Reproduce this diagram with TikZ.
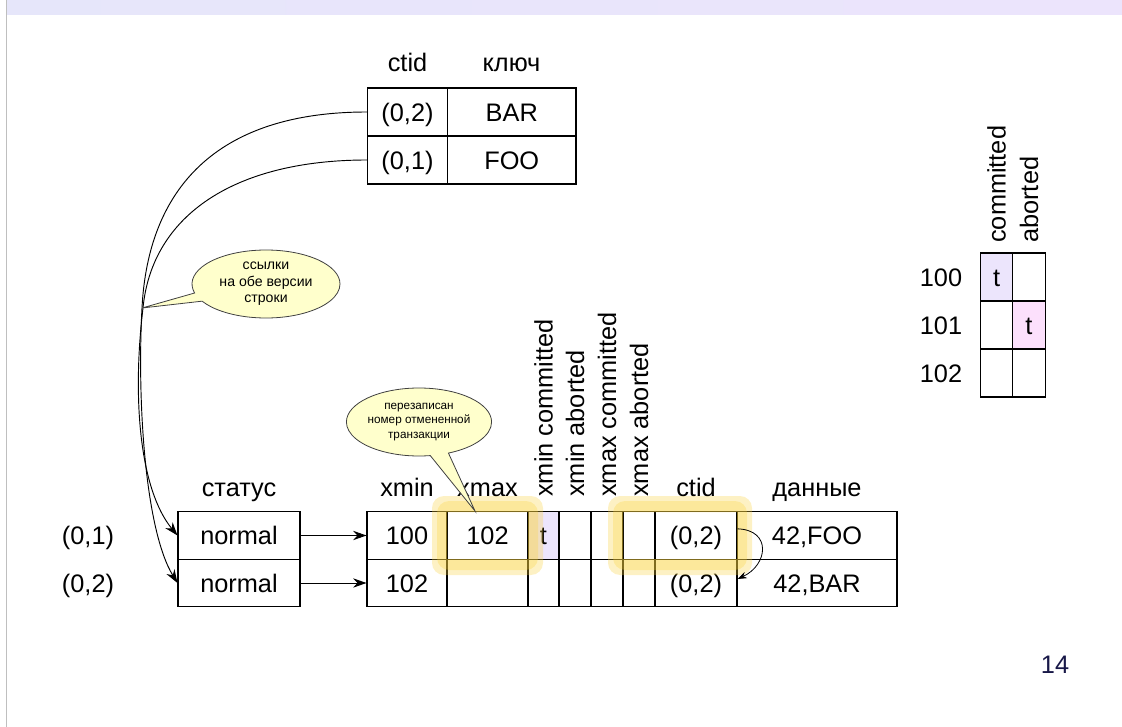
\documentclass[tikz,border=0pt]{standalone}
\usepackage{fontspec}
\setmainfont{Liberation Sans}
\usetikzlibrary{arrows.meta,shapes.callouts}
\definecolor{bandl}{RGB}{230,230,250}
\definecolor{bandr}{RGB}{236,228,252}
\definecolor{lav}{RGB}{236,229,252}
\definecolor{pinkc}{RGB}{252,224,252}
\definecolor{notefill}{RGB}{255,255,204}
\definecolor{glowc}{RGB}{250,210,60}
\definecolor{pagec}{RGB}{24,24,72}

\begin{document}
\begin{tikzpicture}[x=0.75pt,y=-0.75pt]
\tikzstyle{every node}+=[inner sep=0pt]
\tikzstyle{txt}=[font=\fontsize{19}{22}\selectfont, text height=13.7pt, text depth=0pt]
\tikzstyle{cell}=[txt, draw=black, line width=0.8pt, minimum height=35.6pt]
\tikzstyle{vhd}=[txt, rotate=90, anchor=west]
\tikzstyle{note}=[ellipse callout, draw=black!75, line width=0.6pt, fill=notefill, align=center]
\tikzstyle{arr}=[line width=0.7pt, -{Stealth[length=10pt,width=7pt]}]
\tikzstyle{glow}=[fill=glowc, fill opacity=0.3, rounded corners=9pt, even odd rule]
\useasboundingbox (0,0) rectangle (1122,727);
\shade [left color=bandl, right color=bandr] (7,0) rectangle (1122,15);
\draw [black!25, line width=1.1pt] (6.5,0) -- (6.5,727);
\draw (1055,664) node [txt, text=pagec] (pg) {14};
% index
\node [txt, anchor=base] (hic) at (407.5,72) {ctid};
\node [txt, anchor=base] (hik) at (511.5,72) {ключ};
\node [cell, minimum width=60pt, minimum height=36pt] (k2) at (407.5,112) {(0,2)};
\node [cell, minimum width=96.4pt, minimum height=36pt] (kb) at (511.75,112) {BAR};
\node [cell, minimum width=60pt, minimum height=36pt] (k1) at (407.5,160) {(0,1)};
\node [cell, minimum width=96.4pt, minimum height=36pt] (kf) at (511.75,160) {FOO};
% page
\node [txt, anchor=base] (hst) at (239,496) {статус};
\node [txt, anchor=base] (hxn) at (407,496) {xmin};
\node [txt, anchor=base] (hxx) at (487.5,496) {xmax};
\node [txt, anchor=base] (hct) at (696,496) {ctid};
\node [txt, anchor=base] (hdt) at (817,496) {данные};
\node [vhd] (hxc) at (543.5,497) {xmin committed};
\node [vhd] (hxa) at (575,497) {xmin aborted};
\node [vhd] (hmc) at (607,497) {xmax committed};
\node [vhd] (hma) at (639,497) {xmax aborted};
\node [txt] (l1) at (88,535.5) {(0,1)};
\node [txt] (l2) at (88,583) {(0,2)};
\node [cell, minimum width=91.5pt] (n1) at (239,535.5) {normal};
\node [cell, minimum width=91.5pt] (n2) at (239,583) {normal};
\node [cell, minimum width=60pt] (xn1) at (407,535.5) {100};
\node [cell, minimum width=60.75pt] (xx1) at (487.5,535.5) {102};
\node [cell, minimum width=23.25pt, fill=lav] (xc1) at (543.5,535.5) {t};
\node [cell, minimum width=24pt] (xa1) at (575,535.5) {};
\node [cell, minimum width=24pt] (mc1) at (607,535.5) {};
\node [cell, minimum width=24pt] (ma1) at (639,535.5) {};
\node [cell, minimum width=61.5pt] (ct1) at (696,535.5) {(0,2)};
\node [cell, minimum width=120pt] (dt1) at (817,535.5) {42,FOO};
\node [cell, minimum width=60pt] (xn2) at (407,583) {102};
\node [cell, minimum width=60.75pt] (xx2) at (487.5,583) {};
\node [cell, minimum width=23.25pt] (xc2) at (543.5,583) {};
\node [cell, minimum width=24pt] (xa2) at (575,583) {};
\node [cell, minimum width=24pt] (mc2) at (607,583) {};
\node [cell, minimum width=24pt] (ma2) at (639,583) {};
\node [cell, minimum width=61.5pt] (ct2) at (696,583) {(0,2)};
\node [cell, minimum width=120pt] (dt2) at (817,583) {42,BAR};
\fill [glow] (432,496) rectangle (543,575) [sharp corners] (447,512) rectangle (528,559);
\fill [glow] (437,501) rectangle (538,570) [sharp corners] (447,512) rectangle (528,559);
\fill [glow] (608,496) rectangle (752,575) [sharp corners] (623,512) rectangle (737,559);
\fill [glow] (613,501) rectangle (747,570) [sharp corners] (623,512) rectangle (737,559);
% clog
\node [vhd] (hcm) at (996.6,243) {committed};
\node [vhd] (hab) at (1028.9,243) {aborted};
\node [txt] (x100) at (941,277) {100};
\node [txt] (x101) at (941,325) {101};
\node [txt] (x102) at (941,373) {102};
\node [cell, minimum width=24.2pt, minimum height=36pt, fill=lav] (c100) at (996.6,277) {t};
\node [cell, minimum width=24.2pt, minimum height=36pt] (a100) at (1028.9,277) {};
\node [cell, minimum width=24.2pt, minimum height=36pt] (c101) at (996.6,325) {};
\node [cell, minimum width=24.2pt, minimum height=36pt, fill=pinkc] (a101) at (1028.9,325) {t};
\node [cell, minimum width=24.2pt, minimum height=36pt] (c102) at (996.6,373) {};
\node [cell, minimum width=24.2pt, minimum height=36pt] (a102) at (1028.9,373) {};
% links
\draw [arr] (n1.east) -- (xn1.west);
\draw [arr] (n2.east) -- (xn2.west);
\draw [arr] (k2.west) .. controls (215,112) and (148,190) .. (142,308) .. controls (137,400) and (145,530) .. (n2.west);
\draw [arr] (k1.west) .. controls (235,160) and (152,215) .. (143,308) .. controls (132,400) and (140,490) .. (n1.west);
\draw [line width=0.6pt, -{Stealth[length=7pt,width=5pt]}] ([yshift=5pt]ct1.east) .. controls (772,530) and (768,565) .. ([yshift=3pt]ct2.east);
\node [note, font=\fontsize{10.6}{12.4}\selectfont, minimum width=111pt, minimum height=51pt, callout absolute pointer={(142,308)}] (nref) at (266,284) {ссылки\\на обе версии\\строки};
\node [note, font=\fontsize{8.8}{10.9}\selectfont, minimum width=105pt, minimum height=51pt, callout absolute pointer={(475,511)}] (nxmax) at (419,422) {перезаписан\\номер отмененной\\транзакции};
\end{tikzpicture}
\end{document}
